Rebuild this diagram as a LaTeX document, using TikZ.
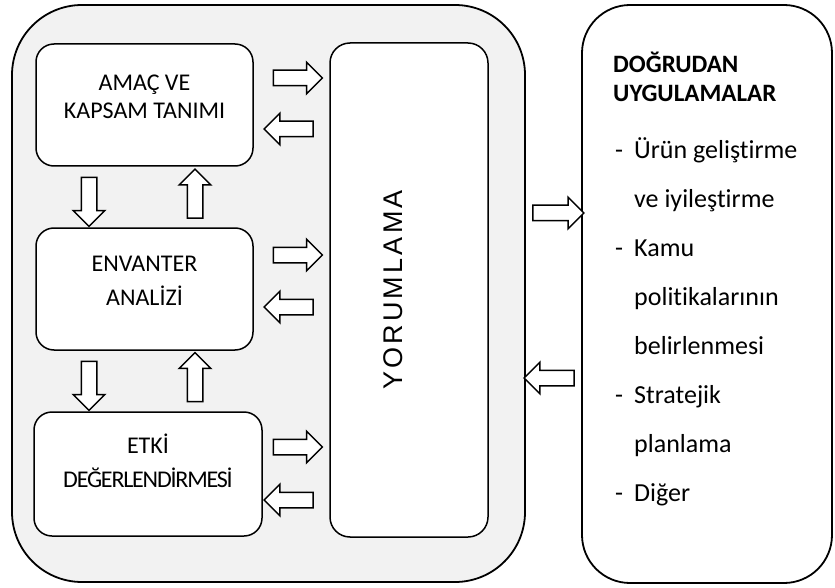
\documentclass[tikz,border=0pt]{standalone}
\usepackage{fontspec}
\setmainfont{Carlito}[Ligatures=NoCommon]
\newfontfamily\yorumfont{Liberation Sans}[LetterSpace=12]
\usetikzlibrary{shapes.arrows}
\usepackage{xcolor}
\definecolor{acikgri}{HTML}{F2F2F2}
\newcommand{\tire}{\makebox[19pt][l]{-}}
\newcommand{\bosluk}{\hspace*{19pt}}

\begin{document}
\begin{tikzpicture}[x=1pt, y=-1pt]
        % ================= 样式定义 =================
        \tikzset{
            % 灰色大框
            anabox/.style={draw=black, line width=1.8pt, fill=acikgri, rounded corners=70pt},
            % 步骤框
            stepbox/.style={draw=black, line width=1.5pt, fill=white, rounded corners=18pt},
            % 框内文字 (base = 最后一行的基线)
            steptext/.style={align=center, inner sep=0pt, anchor=base, font=\fontsize{24}{28}\selectfont},
            % 空心箭头
            hollow/.style={single arrow, draw=black, line width=1.5pt, fill=white, inner sep=7pt,
                single arrow head extend=8pt, minimum width=0pt, minimum height=49pt}
        }
        \useasboundingbox (0,0) rectangle (835,588);

        % ================= 1. 大框 =================
        \node[anabox, minimum width=513pt, minimum height=577pt] (ana) at (268.5,293.5) {};
        \node[anabox, fill=white, rounded corners=48pt, minimum width=250pt, minimum height=578pt] (dogrudan) at (707,294) {};

        % ================= 2. 左侧步骤框 =================
        \node[stepbox, minimum width=217pt, minimum height=122pt] (amac) at (144.5,105) {};
        \node[stepbox, minimum width=217pt, minimum height=122pt] (envanter) at (144.5,289) {};
        \node[stepbox, minimum width=228pt, minimum height=124pt] (etki) at (148,474) {};

        \node[steptext] (amacyazi) at (144.5,119) {AMAÇ VE\\KAPSAM TANIMI};
        \node[steptext, font=\fontsize{24}{34}\selectfont] (envanteryazi) at (144.5,305) {ENVANTER\\ANALİZİ};
        \node[steptext, font=\fontsize{24}{34}\selectfont] (etkiyazi) at (148,487) {ETKİ\\{\addfontfeature{LetterSpace=-5}DEĞERLENDİRMESİ}};

        % ================= 3. 中间 YORUMLAMA =================
        \node[stepbox, rounded corners=20pt, rotate=90, minimum width=494pt, minimum height=158pt,
            font=\yorumfont\fontsize{27}{30}\selectfont, text depth=32pt] (yorum) at (409,290) {YORUMLAMA};

        % ================= 4. 右侧文字 =================
        \node[anchor=base west, align=left, inner sep=0pt, font=\bfseries\fontsize{25}{29}\selectfont] (baslik) at (613,102) {DOĞRUDAN\\UYGULAMALAR};
        \node[anchor=base west, align=left, inner sep=0pt, font=\fontsize{26}{49}\selectfont] (liste) at (615,501)
            {\tire Ürün geliştirme\\ \bosluk ve iyileştirme\\ \tire Kamu\\ \bosluk politikalarının\\ \bosluk belirlenmesi\\
             \tire Stratejik\\ \bosluk planlama\\ \tire Diğer};

        % ================= 5. 空心箭头 =================
        % --- 步骤框 <-> YORUMLAMA ---
        \node[hollow] (ileri1) at (294,78) {};
        \node[hollow, rotate=180] (geri1) at (292.5,129) {};
        \node[hollow] (ileri2) at (294,255) {};
        \node[hollow, rotate=180] (geri2) at (292.5,307) {};
        \node[hollow] (ileri3) at (294,447) {};
        \node[hollow, rotate=180] (geri3) at (292.5,500) {};

        % --- 步骤框之间 ---
        \node[hollow, rotate=-90] (asagi1) at (89,198) {};
        \node[hollow, rotate=90] (yukari1) at (195,197.5) {};
        \node[hollow, rotate=-90] (asagi2) at (89,382) {};
        \node[hollow, rotate=90] (yukari2) at (195,381) {};

        % --- 灰框 <-> 右框 ---
        \node[hollow, minimum height=51pt] (cikis) at (554.5,213) {};
        \node[hollow, rotate=180, minimum height=50pt] (giris) at (553,378) {};

    \end{tikzpicture}
\end{document}
